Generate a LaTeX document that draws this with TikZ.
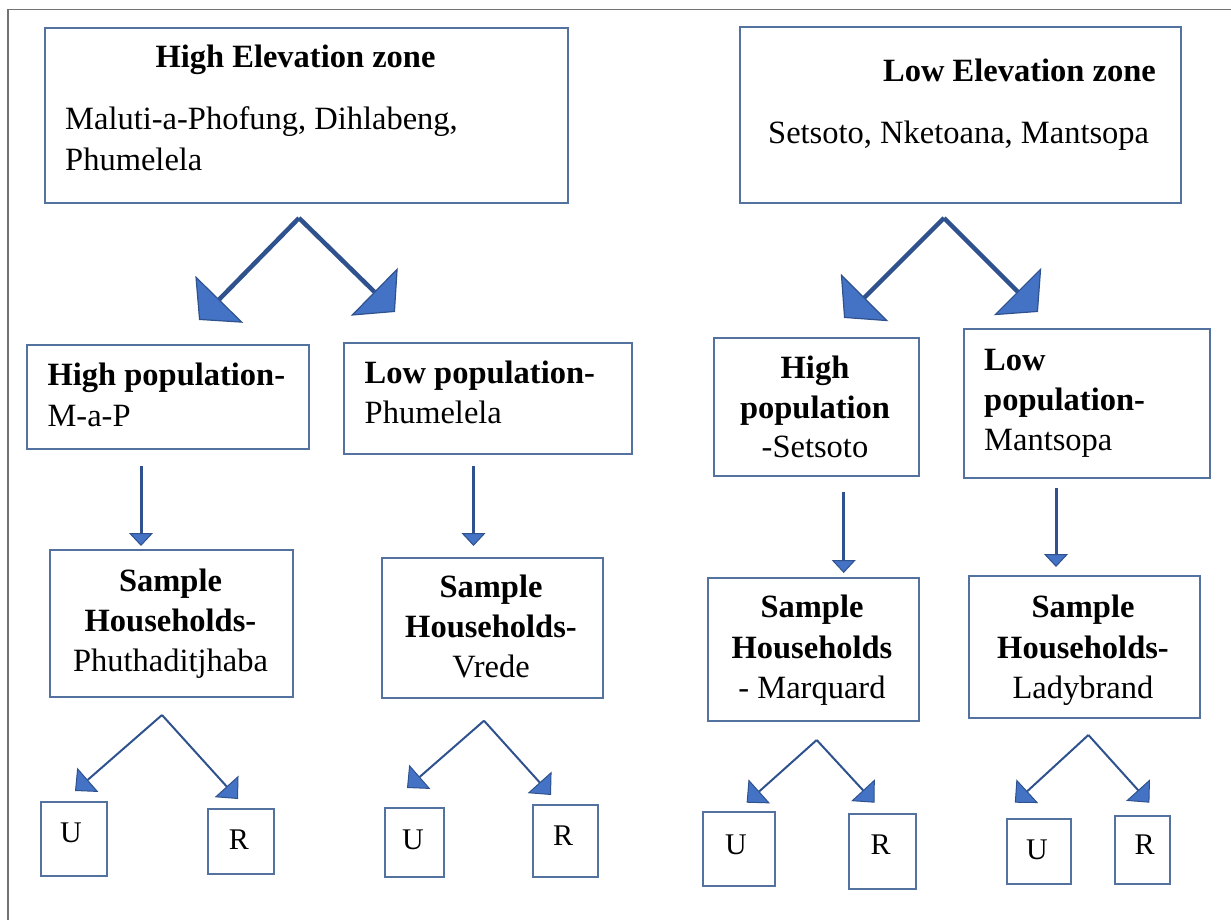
\documentclass[tikz,border=0pt]{standalone}
\usepackage{fontspec}
\setmainfont{Liberation Serif}
\usetikzlibrary{arrows.meta}
\definecolor{boxc}{RGB}{84,114,160}
\definecolor{arrc}{RGB}{47,82,143}
\definecolor{headc}{RGB}{68,114,196}
\definecolor{framec}{RGB}{115,115,115}
\begin{document}
\begin{tikzpicture}[x=1pt,y=-1pt,
  box/.style={draw=boxc,line width=2pt,inner sep=0pt,anchor=north west},
  tb/.style={font=\fontsize{32.5}{40.5}\selectfont\bfseries,inner sep=0pt},
  tr/.style={font=\fontsize{32.5}{40.5}\selectfont,inner sep=0pt},
  tl/.style={font=\fontsize{30}{36}\selectfont,inner sep=0pt},
  bigarrow/.style={draw=arrc,line width=4.5pt,-{Triangle[width=67pt,length=29pt,fill=headc,line width=1.2pt]}},
  downarrow/.style={draw=arrc,line width=3pt,-{Triangle[width=24pt,length=13pt,fill=headc,line width=1pt]}},
  smallarrow/.style={draw=arrc,line width=2pt,-{Triangle[width=32pt,length=17pt,fill=headc,line width=1pt]}}
]
\useasboundingbox (0,0) rectangle (1231,920);
% frame
\coordinate (fr0) at (1231,9.5);
\coordinate (fr1) at (8,9.5);
\coordinate (fr2) at (8,920);
\draw[framec,line width=1.8pt] (fr0) -- (fr1) -- (fr2);

% top boxes
\node[box,minimum width=523pt,minimum height=175pt] (hez) at (43.5,27.3) {};
\node[tb,anchor=base] (hez1) at (295.5,68) {High Elevation zone};
\node[tr,anchor=base west] (hez2) at (65,130) {Maluti-a-Phofung, Dihlabeng,};
\node[tr,anchor=base west] (hez3) at (65,171) {Phumelela};

\node[box,minimum width=441pt,minimum height=176pt] (lez) at (738.7,25.7) {};
\node[tb,anchor=base east] (lez1) at (1156,82) {Low Elevation zone};
\node[tr,anchor=base west] (lez2) at (768,144) {Setsoto, Nketoana, Mantsopa};

% big arrows
\coordinate (ap1) at (299,218);
\coordinate (ap1l) at (199,320);
\coordinate (ap1r) at (395,312);
\draw[bigarrow] (ap1) -- (ap1l);
\draw[bigarrow] (ap1) -- (ap1r);
\coordinate (ap2) at (944,218);
\coordinate (ap2l) at (844,318);
\coordinate (ap2r) at (1038,312);
\draw[bigarrow] (ap2) -- (ap2l);
\draw[bigarrow] (ap2) -- (ap2r);

% population boxes
\node[box,minimum width=282pt,minimum height=104pt] (hp1) at (25.7,344) {};
\node[tb,anchor=base west] (hp1a) at (47.4,385) {High population-};
\node[tr,anchor=base west] (hp1b) at (47.4,426) {M-a-P};

\node[box,minimum width=287.6pt,minimum height=110.7pt] (lp1) at (343,342) {};
\node[tb,anchor=base west] (lp1a) at (364.5,383) {Low population-};
\node[tr,anchor=base west] (lp1b) at (364.5,423) {Phumelela};

\node[box,minimum width=204.7pt,minimum height=138.3pt] (hp2) at (713,336.7) {};
\node[tb,anchor=base] (hp2a) at (815,378) {High};
\node[tb,anchor=base] (hp2b) at (815,418) {population};
\node[tr,anchor=base] (hp2c) at (815,457) {-Setsoto};

\node[box,minimum width=246.3pt,minimum height=148.7pt] (lp2) at (962.5,328) {};
\node[tb,anchor=base west] (lp2a) at (984,370) {Low};
\node[tb,anchor=base west] (lp2b) at (984,410) {population-};
\node[tr,anchor=base west] (lp2c) at (984,450) {Mantsopa};

% down arrows
\coordinate (d1s) at (141,466); \coordinate (d1e) at (141,546);
\coordinate (d2s) at (473.5,466); \coordinate (d2e) at (473.5,546);
\coordinate (d3s) at (843.7,492); \coordinate (d3e) at (843.7,573);
\coordinate (d4s) at (1056,488); \coordinate (d4e) at (1056,567);
\draw[downarrow] (d1s) -- (d1e);
\draw[downarrow] (d2s) -- (d2e);
\draw[downarrow] (d3s) -- (d3e);
\draw[downarrow] (d4s) -- (d4e);

% sample boxes
\node[box,minimum width=242.3pt,minimum height=146.7pt] (s1) at (49.4,549) {};
\node[tb,anchor=base] (s1a) at (170.5,591.7) {Sample};
\node[tb,anchor=base] (s1b) at (170.5,631.7) {Households-};
\node[tr,anchor=base] (s1c) at (170.5,671.7) {Phuthaditjhaba};

\node[box,minimum width=221pt,minimum height=140pt] (s2) at (380.6,556.7) {};
\node[tb,anchor=base] (s2a) at (491,597) {Sample};
\node[tb,anchor=base] (s2b) at (491,637) {Households-};
\node[tr,anchor=base] (s2c) at (491,677) {Vrede};

\node[box,minimum width=210.7pt,minimum height=143.3pt] (s3) at (707,576.7) {};
\node[tb,anchor=base] (s3a) at (812,617) {Sample};
\node[tb,anchor=base] (s3b) at (812,658) {Households};
\node[tr,anchor=base] (s3c) at (812,698) {- Marquard};

\node[box,minimum width=230.6pt,minimum height=142pt] (s4) at (968.4,575) {};
\node[tb,anchor=base] (s4a) at (1083,617) {Sample};
\node[tb,anchor=base] (s4b) at (1083,658) {Households-};
\node[tr,anchor=base] (s4c) at (1083,698) {Ladybrand};

% small arrows
\coordinate (a1) at (162,715); \coordinate (a1l) at (75,791); \coordinate (a1r) at (238,799);
\coordinate (a2) at (484,720.7); \coordinate (a2l) at (407,788); \coordinate (a2r) at (551,795);
\coordinate (a3) at (816.7,740); \coordinate (a3l) at (746.6,802.7); \coordinate (a3r) at (874.5,802.7);
\coordinate (a4) at (1088.4,735); \coordinate (a4l) at (1014.8,802.7); \coordinate (a4r) at (1149.4,802.7);
\foreach \i in {1,2,3,4}{
  \draw[smallarrow] (a\i) -- (a\i l);
  \draw[smallarrow] (a\i) -- (a\i r);
}

% U / R boxes
\node[box,minimum width=66pt,minimum height=74.3pt] (u1) at (39.5,800.7) {};
\node[tl] (u1t) at (71,833) {U};
\node[box,minimum width=66pt,minimum height=65pt] (r1) at (206.7,808) {};
\node[tl] (r1t) at (239,840) {R};
\node[box,minimum width=58.7pt,minimum height=69.3pt] (u2) at (384,806.7) {};
\node[tl] (u2t) at (413,840) {U};
\node[box,minimum width=65.2pt,minimum height=72pt] (r2) at (531.6,804) {};
\node[tl] (r2t) at (563,836) {R};
\node[box,minimum width=71.6pt,minimum height=74pt] (u3) at (702,811) {};
\node[tl] (u3t) at (736,845) {U};
\node[box,minimum width=66.6pt,minimum height=75.6pt] (r3) at (848.4,812.7) {};
\node[tl] (r3t) at (880.5,845) {R};
\node[box,minimum width=64pt,minimum height=65pt] (u4) at (1006,818.3) {};
\node[tl] (u4t) at (1037,850) {U};
\node[box,minimum width=55pt,minimum height=67.7pt] (r4) at (1114,815) {};
\node[tl] (r4t) at (1144.6,845) {R};
\end{tikzpicture}
\end{document}
